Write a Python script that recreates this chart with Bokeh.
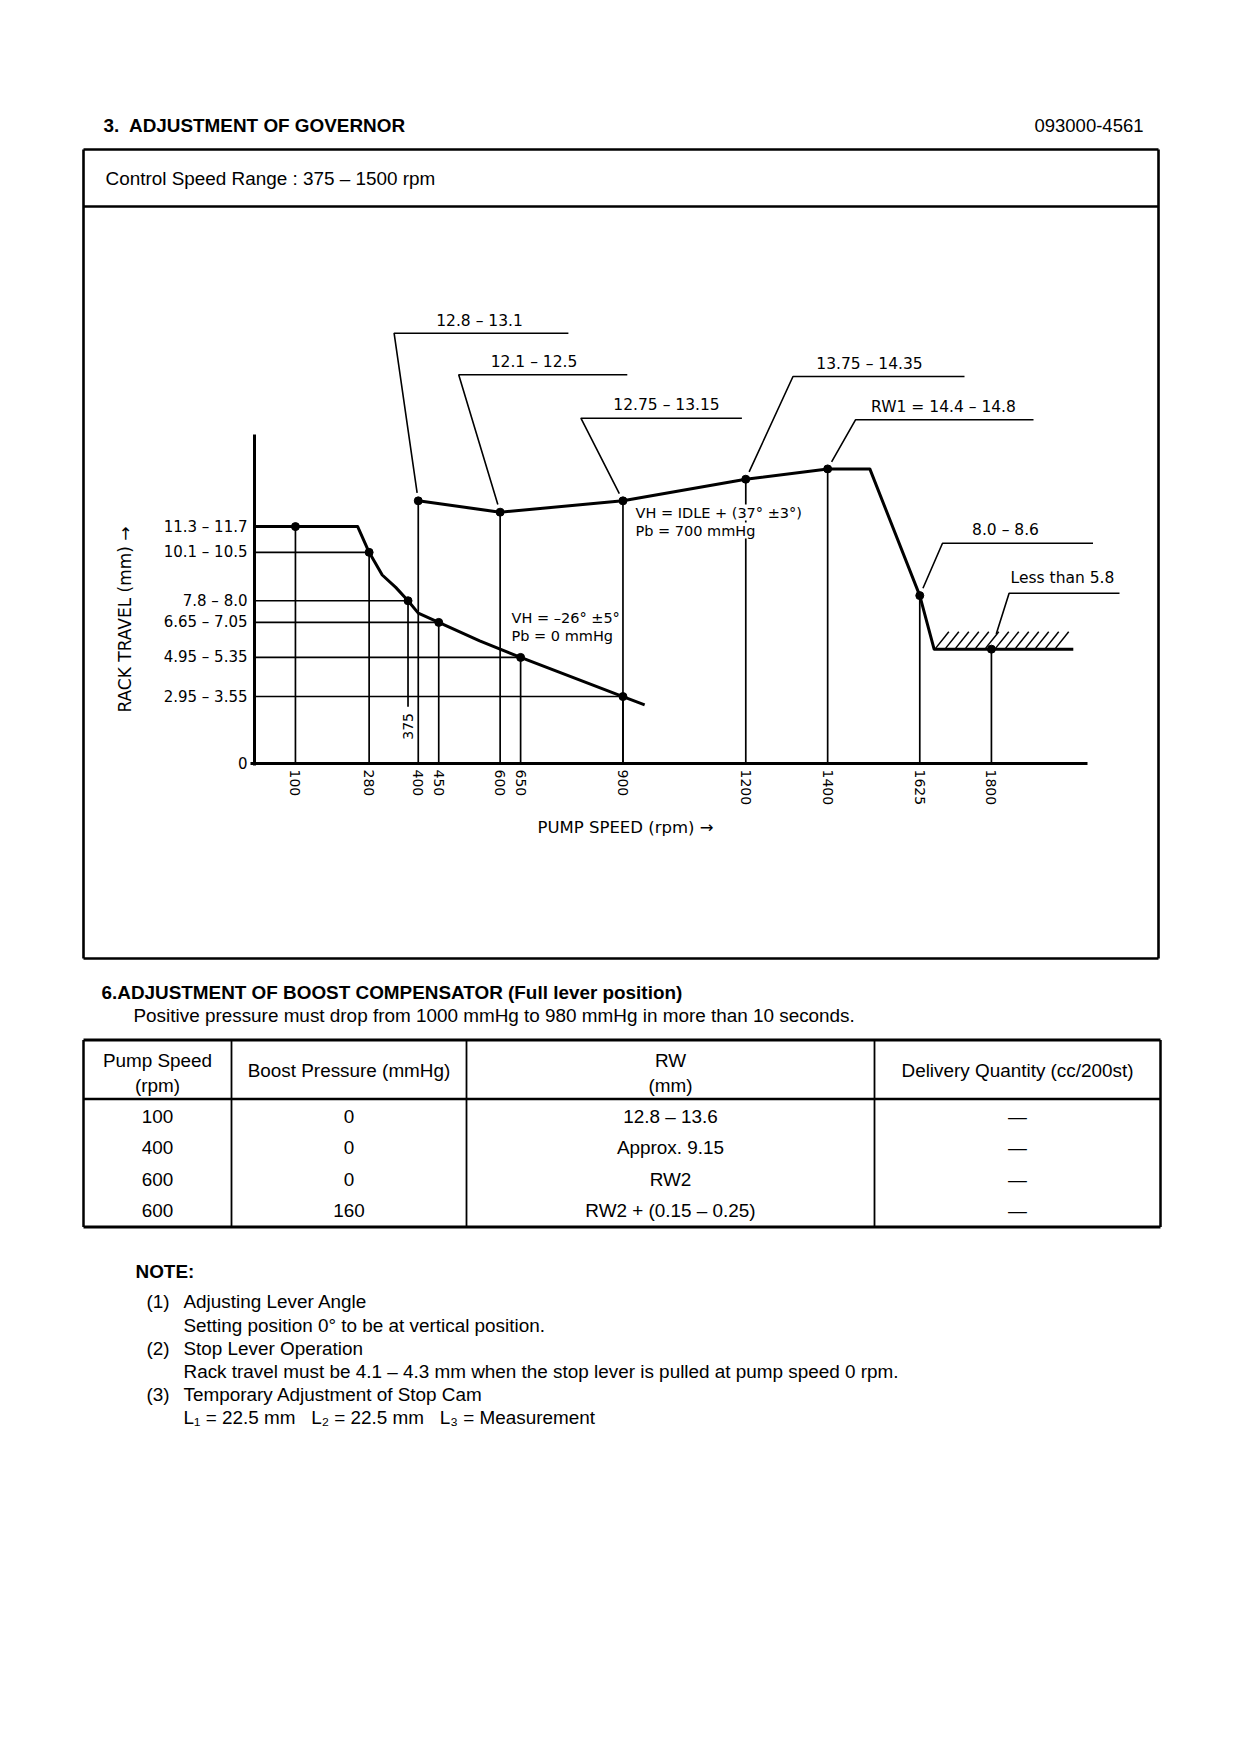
import numpy as np
from bokeh.plotting import figure
from bokeh.models import Range1d, LinearAxis, FixedTicker, CustomJSTickFormatter
from bokeh.core.properties import value
from bokeh.embed import file_html
from bokeh.resources import INLINE

# ---------------- data ----------------
x_ticks = [100, 280, 400, 450, 600, 650, 900, 1200, 1400, 1625, 1800]
y_levels = [11.5, 10.25, 7.9, 6.85, 5.15, 3.25]
y_level_labels = ["11.3 – 11.7", "10.1 – 10.5", "7.8 – 8.0", "6.65 – 7.05", "4.95 – 5.35", "2.95 – 3.55"]

# Pb = 0 mmHg curve
lower_rpm = [0, 252, 280, 312, 345, 375, 400, 450, 550, 650, 900, 953]
lower_mm = [11.5, 11.5, 10.25, 9.15, 8.55, 7.9, 7.3, 6.85, 5.95, 5.15, 3.25, 2.85]
lower_pt_rpm = [100, 280, 375, 450, 650, 900]
lower_pt_mm = [11.5, 10.25, 7.9, 6.85, 5.15, 3.25]

# Pb = 700 mmHg curve
upper_rpm = [400, 600, 900, 1200, 1400, 1503, 1625, 1660, 2000]
upper_mm = [12.75, 12.2, 12.75, 13.8, 14.3, 14.3, 8.15, 5.55, 5.55]
upper_pt_rpm = [400, 600, 900, 1200, 1400, 1625, 1800]
upper_pt_mm = [12.75, 12.2, 12.75, 13.8, 14.3, 8.15, 5.55]
upper_labels = ["12.8 – 13.1", "12.1 – 12.5", "12.75 – 13.15", "13.75 – 14.35",
                "RW1 = 14.4 – 14.8", "8.0 – 8.6", "Less than 5.8"]

stop_start_rpm = 1660
stop_end_rpm = 2000
stop_mm = 5.55
line_375_bottom_mm = 2.75

table_speed = ["100", "400", "600", "600"]
table_boost = ["0", "0", "0", "160"]
table_rw = ["12.8 – 13.6", "Approx. 9.15", "RW2", "RW2 + (0.15 – 0.25)"]
table_delivery = ["—", "—", "—", "—"]

# ---------------- page / chart geometry ----------------
W, H = 1224, 1736
OFF = 0                     # canvas origin on the page
X0_PX, XS = 254.0, 0.4094   # page px of 0 rpm, px per rpm
Y0_PX, YS = 763.0, 20.6     # page px of 0 mm, px per mm


def rpm_of(px):
    return (px - X0_PX) / XS


def mm_of(py):
    return (Y0_PX - py) / YS


def px_of(r):
    return X0_PX + r * XS


def py_of(m):
    return Y0_PX - m * YS


p = figure(width=W, height=H,
           x_range=Range1d(rpm_of(OFF), rpm_of(OFF + W)),
           y_range=Range1d(mm_of(OFF + H), mm_of(OFF)),
           output_backend="svg", toolbar_location=None,
           x_axis_location=None, y_axis_location=None,
           min_border=0, outline_line_color=None,
           background_fill_color="white", border_fill_color="white")
p.extra_x_ranges = {"page": Range1d(OFF, OFF + W)}
p.extra_y_ranges = {"page": Range1d(OFF + H, OFF)}
p.xgrid.grid_line_color = None
p.ygrid.grid_line_color = None

PAGE = dict(x_range_name="page", y_range_name="page")
BODY = "Liberation Sans"
CHART = "DejaVu Sans"
BS = 18.9


def ptext(x, y, s, size=BS, bold=False, align="left"):
    p.text(x=[x], y=[y], text=[s], text_font=value(BODY), text_font_size=f"{size}px",
           text_font_style="bold" if bold else "normal", text_align=align,
           text_baseline="middle", text_color="black", **PAGE)


def pline(x0, y0, x1, y1, w):
    p.segment(x0=[x0], y0=[y0], x1=[x1], y1=[y1], line_color="black", line_width=w, **PAGE)


def ctext(xs, ys, texts, size=14.5, align="left", angle=0.0, **kw):
    p.text(x=xs, y=ys, text=texts, text_font=value(CHART), text_font_size=f"{size}px",
           text_align=align, text_baseline="middle", text_color="black", angle=angle, **kw)


# ---------------- header ----------------
ptext(103, 125, "3.\u00a0 ADJUSTMENT OF GOVERNOR", size=18.9, bold=True)
ptext(1143, 125, "093000-4561", size=18.5, align="right")
pline(83, 149, 1158, 149, 2.6)
pline(83, 958, 1158, 958, 2.6)
pline(83, 149, 83, 958, 2.6)
pline(1158, 149, 1158, 958, 2.6)
pline(83, 206, 1158, 206, 2.6)
ptext(105, 178, "Control Speed Range : 375 – 1500 rpm")

# ---------------- chart ----------------
# reference lines from the rack-travel axis
href = list(range(1, len(lower_pt_rpm)))
p.segment(x0=[0] * len(href), y0=[lower_pt_mm[i] for i in href],
          x1=[lower_pt_rpm[i] for i in href], y1=[lower_pt_mm[i] for i in href],
          line_color="black", line_width=1.6)

# vertical drop lines
drop_x = [r for r, m in zip(lower_pt_rpm, lower_pt_mm) if r != 375] + upper_pt_rpm
drop_top = [m for r, m in zip(lower_pt_rpm, lower_pt_mm) if r != 375] + upper_pt_mm
p.segment(x0=drop_x, y0=[0] * len(drop_x), x1=drop_x, y1=drop_top,
          line_color="black", line_width=1.7)
i375 = lower_pt_rpm.index(375)
p.segment(x0=[375], y0=[line_375_bottom_mm], x1=[375], y1=[lower_pt_mm[i375]],
          line_color="black", line_width=1.7)
ctext([375], [line_375_bottom_mm - 0.3], ["375"], size=14, align="right", angle=np.pi / 2)

# curves
p.line(lower_rpm, lower_mm, line_color="black", line_width=3, line_join="round")
p.line(upper_rpm, upper_mm, line_color="black", line_width=3, line_join="round")

# hatched stop zone
hatch_x = np.arange(stop_start_rpm + 4, stop_end_rpm - 25, 24.4)
p.segment(x0=hatch_x, y0=[stop_mm + 0.05] * len(hatch_x), x1=hatch_x + 32,
          y1=[stop_mm + 0.85] * len(hatch_x), line_color="black", line_width=1.5)

# points
p.scatter(lower_pt_rpm, lower_pt_mm, size=8, color="black")
p.scatter(upper_pt_rpm, upper_pt_mm, size=8, color="black")

# leaders
leader_elbow_px = [(393.6, 332.7), (458.2, 374.3), (580.4, 417.7), (792.5, 376.0),
                   (855.0, 419.3), (942.0, 542.7), (1008.6, 592.7)]
leader_shelf_end_px = [567.9, 626.8, 741.4, 964.0, 1033.0, 1092.5, 1119.0]
leader_text_px = [(479, 320), (533.5, 361), (666, 404), (869, 363), (943, 406),
                  (1005, 529), (1062, 577)]
leader_gap_px = [8, 8, 8, 8, 8, 8, 16]
lx, ly = [], []
for k in range(len(upper_pt_rpm)):
    ptx, pty = px_of(upper_pt_rpm[k]), py_of(upper_pt_mm[k])
    ex, ey = leader_elbow_px[k]
    d = np.hypot(ex - ptx, ey - pty)
    tx = ptx + (ex - ptx) / d * leader_gap_px[k]
    ty = pty + (ey - pty) / d * leader_gap_px[k]
    sx = leader_shelf_end_px[k]
    lx.append([rpm_of(tx), rpm_of(ex), rpm_of(sx)])
    ly.append([mm_of(ty), mm_of(ey), mm_of(ey)])
p.multi_line(lx, ly, line_color="black", line_width=1.6)
ctext([rpm_of(t[0]) for t in leader_text_px], [mm_of(t[1]) for t in leader_text_px],
      upper_labels, size=15.5, align="center")

# condition notes (white background masks the drop lines behind them)
ctext([rpm_of(635)] * 2, [mm_of(512), mm_of(530)],
      ["VH = IDLE + (37° ±3°)", "Pb = 700 mmHg"], size=14.5,
      background_fill_color="white")
ctext([rpm_of(511)] * 2, [mm_of(617), mm_of(635)],
      ["VH = –26° ±5°", "Pb = 0 mmHg"], size=14.5)

# axis titles
ctext([rpm_of(625)], [mm_of(827)], ["PUMP SPEED (rpm) →"], size=16.5, align="center")
ctext([rpm_of(124)], [mm_of(619)], ["RACK TRAVEL (mm) →"], size=17, align="center",
      angle=np.pi / 2)

# axes
yfmt = CustomJSTickFormatter(args=dict(levels=y_levels, labels=y_level_labels), code="""
    const i = levels.findIndex(v => Math.abs(v - tick) < 1e-6);
    return i >= 0 ? labels[i] : String(tick);
""")
yaxis = LinearAxis(fixed_location=0, bounds=(-0.1, mm_of(434)),
                   ticker=FixedTicker(ticks=[0] + y_levels), formatter=yfmt,
                   axis_line_width=3, axis_line_color="black",
                   major_tick_line_color=None, minor_tick_line_color=None,
                   major_tick_out=0, major_tick_in=0, major_label_standoff=7,
                   major_label_text_font=CHART, major_label_text_font_size="15px",
                   major_label_text_color="black")
p.add_layout(yaxis, "left")

xaxis = LinearAxis(fixed_location=0, bounds=(-10, 2035),
                   ticker=FixedTicker(ticks=x_ticks),
                   axis_line_width=3, axis_line_color="black",
                   major_tick_line_color=None, minor_tick_line_color=None,
                   major_tick_out=0, major_tick_in=0, major_label_standoff=6,
                   major_label_orientation="vertical",
                   major_label_text_font=CHART, major_label_text_font_size="14px",
                   major_label_text_color="black")
p.add_layout(xaxis, "below")

# ---------------- section 6 ----------------
ptext(101, 992, "6.ADJUSTMENT OF BOOST COMPENSATOR (Full lever position)", bold=True)
ptext(133, 1015, "Positive pressure must drop from 1000 mmHg to 980 mmHg in more than 10 seconds.")

t_top, t_head, t_bot = 1039.5, 1098.5, 1226.5
t_left, t_right = 83, 1160
col_x = [231, 466, 874]
pline(t_left, t_top, t_right, t_top, 3)
pline(t_left, t_head, t_right, t_head, 2.5)
pline(t_left, t_bot, t_right, t_bot, 3)
pline(t_left, t_top, t_left, t_bot, 2.5)
pline(t_right, t_top, t_right, t_bot, 2.5)
for cx in col_x:
    pline(cx, t_top, cx, t_bot, 1.8)

centers = [157, 348.5, 670, 1017]
ptext(centers[0], 1060, "Pump Speed", align="center")
ptext(centers[0], 1085, "(rpm)", align="center")
ptext(centers[1], 1070, "Boost Pressure (mmHg)", align="center")
ptext(centers[2], 1060, "RW", align="center")
ptext(centers[2], 1085, "(mm)", align="center")
ptext(centers[3], 1070, "Delivery Quantity (cc/200st)", align="center")
row_y = [1116, 1147, 1179, 1210]
for j, ry in enumerate(row_y):
    for c, col in zip(centers, [table_speed, table_boost, table_rw, table_delivery]):
        ptext(c, ry, col[j], align="center")

# ---------------- notes ----------------
ptext(135, 1271, "NOTE:", bold=True)
ptext(146, 1301, "(1)")
ptext(183, 1301, "Adjusting Lever Angle")
ptext(183, 1325, "Setting position 0° to be at vertical position.")
ptext(146, 1348, "(2)")
ptext(183, 1348, "Stop Lever Operation")
ptext(183, 1371, "Rack travel must be 4.1 – 4.3 mm when the stop lever is pulled at pump speed 0 rpm.")
ptext(146, 1394, "(3)")
ptext(183, 1394, "Temporary Adjustment of Stop Cam")
ptext(183, 1417, "L₁ = 22.5 mm\u00a0\u00a0 L₂ = 22.5 mm\u00a0\u00a0 L₃ = Measurement")

open("out.html", "w").write(file_html(p, INLINE))
